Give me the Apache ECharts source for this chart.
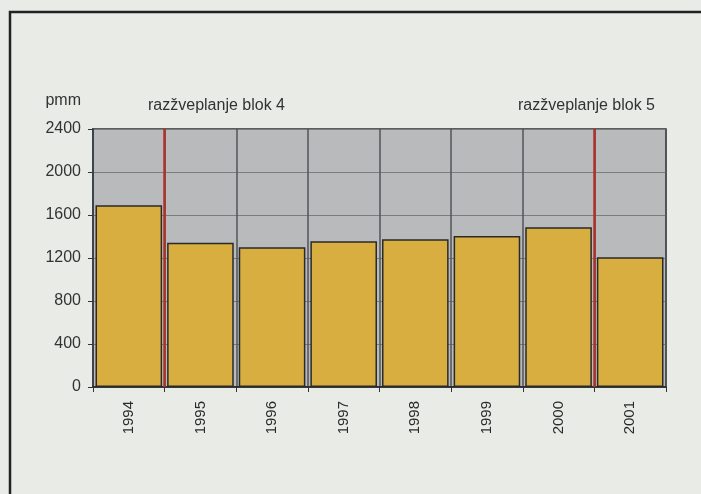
<!DOCTYPE html>
<html>
<head>
<meta charset="utf-8">
<script src="https://cdn.jsdelivr.net/npm/echarts@6/dist/echarts.min.js"></script>
<style>
html,body{margin:0;padding:0;background:#e9ebe7;}
#c{width:701px;height:494px;}
</style>
</head>
<body>
<div id="c"></div>
<script>
const years = ['1994','1995','1996','1997','1998','1999','2000','2001'];
const values = [1690, 1342, 1300, 1355, 1375, 1405, 1487, 1208];
const yTicks = [0, 400, 800, 1200, 1600, 2000, 2400];
const unitLabel = 'pmm';
const markerBoundaries = [1, 7];
const markerTexts = ['razžveplanje blok 4', 'razžveplanje blok 5'];

const chart = echarts.init(document.getElementById('c'));
const font = 'Liberation Sans, Arial, sans-serif';
chart.setOption({
  animation: false,
  backgroundColor: '#e9ebe7',
  grid: {left: 93, right: 35, top: 129, bottom: 107, show: true,
         backgroundColor: '#b9babb', borderColor: '#2e2e2e', borderWidth: 1.5},
  xAxis: [{
    type: 'category', data: years, boundaryGap: true,
    axisLine: {show: true, lineStyle: {color: '#222', width: 1.5}},
    axisTick: {show: true, length: 5, lineStyle: {color: '#333'}},
    splitLine: {show: true, lineStyle: {color: '#505458', width: 1.5}},
    axisLabel: {rotate: 90, margin: 14, fontSize: 15, color: '#2a2a2a', fontFamily: font}
  }, {
    type: 'value', min: 0, max: years.length, show: false
  }],
  yAxis: {
    type: 'value', min: yTicks[0], max: yTicks[yTicks.length - 1], interval: 400,
    name: unitLabel, nameLocation: 'end', nameGap: 20,
    nameTextStyle: {fontSize: 16, color: '#333', fontFamily: font, align: 'right', padding: [0, 12, 0, 0]},
    axisLine: {show: true, lineStyle: {color: '#3c4448', width: 2}},
    axisTick: {show: true, length: 5, lineStyle: {color: '#333'}},
    axisLabel: {margin: 12, fontSize: 16, color: '#333', fontFamily: font,
                formatter: v => String(v)},
    splitLine: {show: true, lineStyle: {color: '#7a7c7e', width: 1}}
  },
  series: [{
    type: 'bar', data: values, barCategoryGap: '7%',
    itemStyle: {color: '#d7ae3f', borderColor: '#2a2a2a', borderWidth: 1.5}
  }, {
    type: 'line', xAxisIndex: 1, data: [], silent: true,
    markLine: {
      symbol: 'none', silent: true, label: {show: false},
      lineStyle: {color: '#b0302a', width: 2.5, type: 'solid'},
      data: markerBoundaries.map(b => ({xAxis: b}))
    }
  }],
  graphic: [
    {type: 'rect', left: 7.5, top: 9.5, silent: true,
     shape: {width: 800, height: 600},
     style: {fill: 'none', stroke: '#222', lineWidth: 2.5}},
    {type: 'text', left: 148, top: 98,
     style: {text: markerTexts[0], font: '16px ' + font, fill: '#333'}},
    {type: 'text', left: 518, top: 98,
     style: {text: markerTexts[1], font: '16px ' + font, fill: '#333'}}
  ]
});
</script>
</body>
</html>
